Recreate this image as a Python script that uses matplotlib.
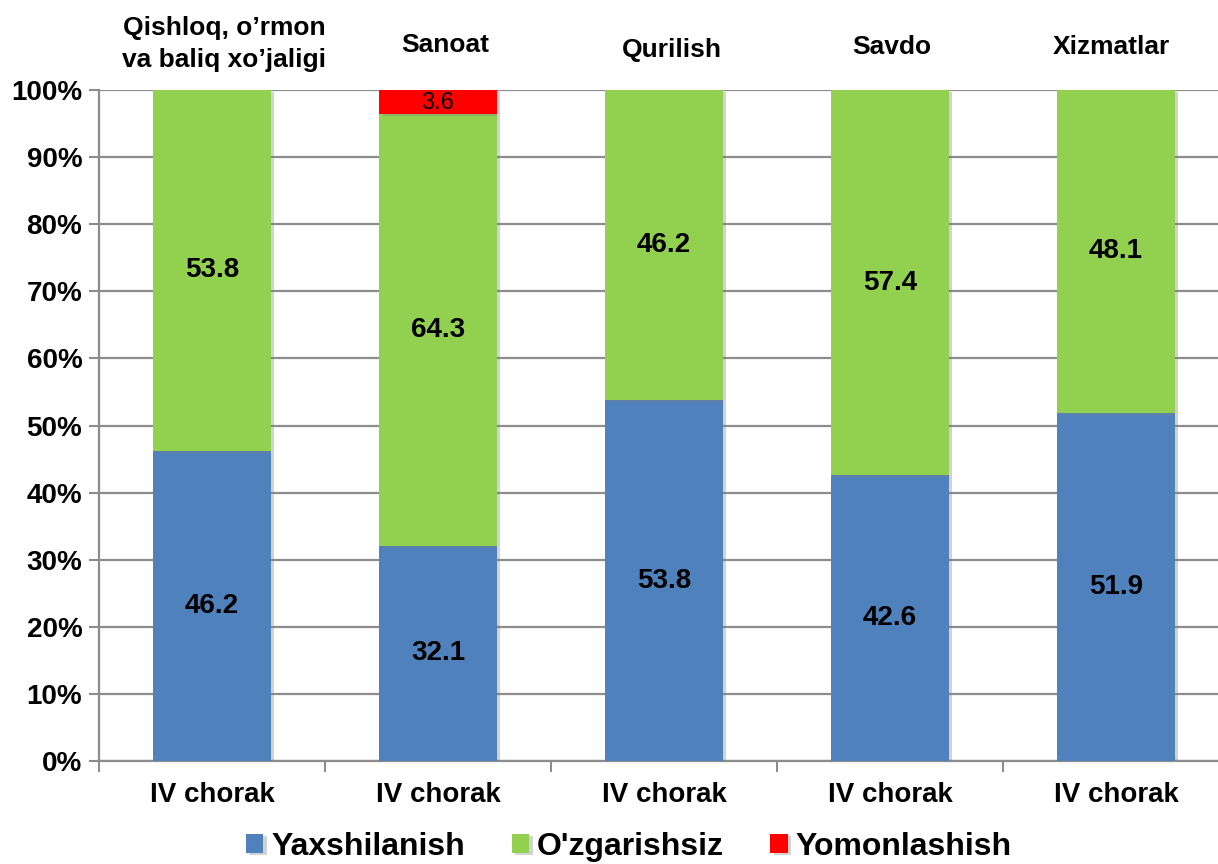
import matplotlib
matplotlib.use("Agg")
import matplotlib.pyplot as plt
import matplotlib.patheffects as pe
import numpy as np

categories = ["IV chorak"] * 5
sectors = ["Qishloq, o\u2019rmon\nva baliq xo\u2019jaligi", "Sanoat", "Qurilish", "Savdo", "Xizmatlar"]
yaxshi = [46.2, 32.1, 53.8, 42.6, 51.9]
ozgar = [53.8, 64.3, 46.2, 57.4, 48.1]
yomon = [0.0, 3.6, 0.0, 0.0, 0.0]
series_names = ["Yaxshilanish", "O'zgarishsiz", "Yomonlashish"]
colors = ["#4F81BD", "#92D050", "#FF0000"]

plt.rcParams['font.family'] = ['Liberation Sans', 'DejaVu Sans']

fig = plt.figure(figsize=(12.18, 8.64), dpi=100)
ax = fig.add_axes([99/1218, 103/864, 1130/1218, 671/864])

x = np.arange(len(categories))
w = 0.52
shadow = [pe.SimplePatchShadow(offset=(2.5, -1.5), shadow_rgbFace="#808080", alpha=0.35), pe.Normal()]
bottom = np.zeros(len(x))
for vals, col, name in zip([yaxshi, ozgar, yomon], colors, series_names):
    v = np.array(vals) / 100.0
    bars = ax.bar(x, v, w, bottom=bottom, color=col, label=name, zorder=3)
    for b in bars:
        b.set_path_effects(shadow)
    for xi, vi, bi, raw in zip(x, v, bottom, vals):
        if raw <= 0:
            continue
        if name == "Yomonlashish":
            ax.text(xi, bi + vi / 2 - 0.002, f"{raw:.1f}", ha="center", va="center",
                    fontsize=17, color="black", zorder=5)
        else:
            ax.text(xi, bi + vi / 2, f"{raw:.1f}", ha="center", va="center",
                    fontsize=20, fontweight="bold", color="black", zorder=5)
    bottom = bottom + v

ax.set_xlim(-0.5, len(x) - 0.5)
ax.set_ylim(0, 1)
ax.set_yticks(np.arange(0, 1.01, 0.1))
ax.set_yticklabels([f"{int(round(t*100))}%" for t in np.arange(0, 1.01, 0.1)],
                   fontsize=20, fontweight="bold")
ax.set_xticks(x)
ax.set_xticklabels(categories, fontsize=20, fontweight="bold")
ax.set_xticks(np.arange(-0.5, len(x), 1.0), minor=True)
ax.tick_params(axis="x", which="major", length=0, pad=15)
ax.tick_params(axis="x", which="minor", length=8, width=1.5, color="#8C8C8C", direction="out")
ax.tick_params(axis="y", length=7, width=1.5, color="#8C8C8C", pad=5)

ax.grid(axis="y", color="#8C8C8C", linewidth=1.6, zorder=0)
ax.set_axisbelow(True)
for s in ["top", "right"]:
    ax.spines[s].set_visible(False)
for s in ["left", "bottom"]:
    ax.spines[s].set_color("#8C8C8C")
    ax.spines[s].set_linewidth(1.6)

# title text boxes: pixel offsets from bar centre (dx) and above plot top (dy)
title_dx = [12, 7, 8, 2, -5]
title_dy = [46, 45, 40, 43, 43]
for xi, s, dx, dy in zip(x, sectors, title_dx, title_dy):
    ax.text(xi + dx / 226.0, 1.0 + dy / 671, s, ha="center", va="center", fontsize=19,
            fontweight="bold", linespacing=1.4, transform=ax.get_xaxis_transform())

leg = fig.legend(loc="center", bbox_to_anchor=(629/1218, 1 - 847/864), ncol=3, frameon=False,
                 prop={"size": 23, "weight": "bold"}, handlelength=0.55, handleheight=0.55,
                 handletextpad=0.25, columnspacing=1.45)

fig.savefig("out.png", dpi=100)
